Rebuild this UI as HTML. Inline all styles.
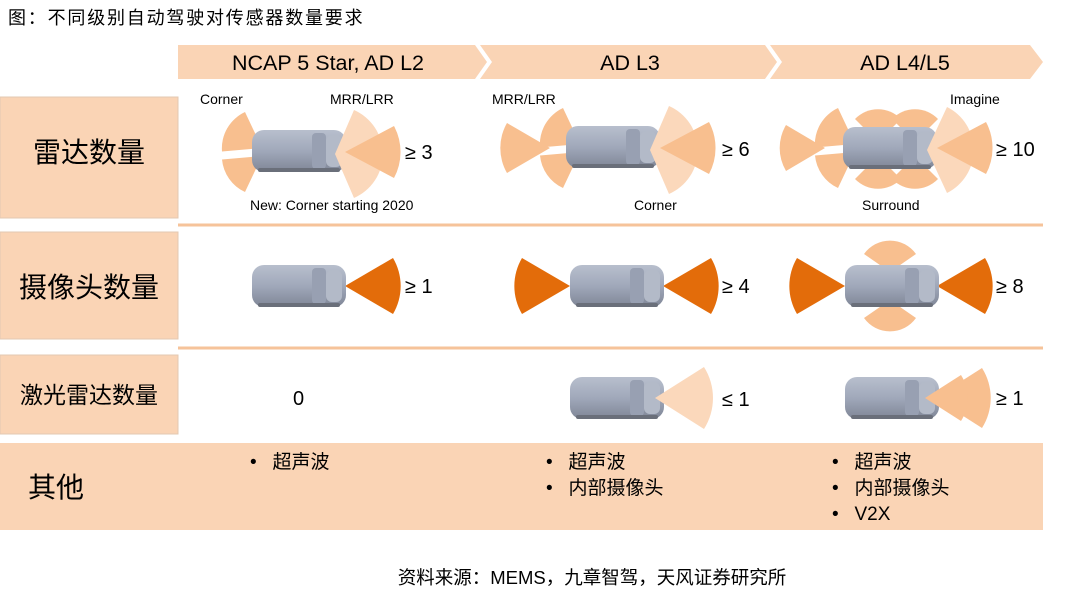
<!DOCTYPE html>
<html><head><meta charset="utf-8"><style>
body{margin:0;background:#fff;}
svg{display:block;font-family:"Liberation Sans","Noto Sans CJK SC",sans-serif;}
</style></head><body>
<svg width="1077" height="597" viewBox="0 0 1077 597" xmlns="http://www.w3.org/2000/svg">
<defs>
<linearGradient id="cg" x1="0" y1="0" x2="0" y2="1">
<stop offset="0" stop-color="#b8bfcd"/><stop offset="0.5" stop-color="#a0a8ba"/><stop offset="1" stop-color="#7f8696"/>
</linearGradient>
<g id="car">
<rect x="0" y="0" width="94" height="42" rx="12" fill="url(#cg)"/>
<rect x="60" y="3" width="14" height="36" rx="4" fill="#98a0b2"/>
<rect x="74" y="5" width="16" height="32" rx="6" fill="#b3bac8"/>
<rect x="6" y="38" width="82" height="4" rx="2" fill="#6a6f7a"/>
</g>
</defs>
<text x="8" y="24" font-size="18" letter-spacing="1.8" fill="#000">图：不同级别自动驾驶对传感器数量要求</text>
<!-- header -->
<polygon points="178,45 475,45 487,62 475,79 178,79" fill="#fad4b5"/>
<polygon points="480,45 765,45 777,62 765,79 480,79 492,62" fill="#fad4b5"/>
<polygon points="770,45 1030,45 1043,62 1030,79 770,79 782,62" fill="#fad4b5"/>
<text x="328" y="70" font-size="21.5" text-anchor="middle">NCAP 5 Star, AD L2</text>
<text x="630" y="70" font-size="21.5" text-anchor="middle">AD L3</text>
<text x="905" y="70" font-size="21.5" text-anchor="middle">AD L4/L5</text>
<!-- left boxes -->
<rect x="0" y="97" width="178" height="121" fill="#fad4b5" stroke="#e3c8b2"/>
<rect x="0" y="232" width="178" height="107" fill="#fad4b5" stroke="#e3c8b2"/>
<rect x="0" y="355" width="178" height="79" fill="#fad4b5" stroke="#e3c8b2"/>
<rect x="0" y="443" width="1043" height="87" fill="#fad4b5"/>
<line x1="178" y1="225" x2="1043" y2="225" stroke="#f6c39a" stroke-width="3"/>
<line x1="178" y1="348" x2="1043" y2="348" stroke="#f6c39a" stroke-width="3"/>
<text x="89" y="162" font-size="28" text-anchor="middle">雷达数量</text>
<text x="89" y="297" font-size="28" text-anchor="middle">摄像头数量</text>
<text x="89" y="403" font-size="23" text-anchor="middle">激光雷达数量</text>
<text x="28" y="497" font-size="28">其他</text>
<!-- radar col1 -->
<g fill="#f8bf8f">
<path d="M262,148 L222,151.5 A40,40 0 0 1 245,112 Z"/>
<path d="M262,156 L245,192 A40,40 0 0 1 222,159.5 Z"/>
</g>
<use href="#car" x="252" y="130"/>
<path d="M335,154 L354,110 A48,48 0 0 1 354,198 Z" fill="#fbd8bb"/>
<path d="M345,152 L394,126 A55,55 0 0 1 394,178 Z" fill="#f8bf8f"/>
<!-- radar col2 -->
<g fill="#f8bf8f">
<path d="M550,148 L507,123 A50,50 0 0 0 507,173 Z"/>
<path d="M580,144 L540,147.5 A40,40 0 0 1 563,108 Z"/>
<path d="M580,152 L563,188 A40,40 0 0 1 540,155.5 Z"/>
</g>
<use href="#car" x="566" y="126"/>
<path d="M650,150 L669,106 A48,48 0 0 1 669,194 Z" fill="#fbd8bb"/>
<path d="M660,148 L709,122 A55,55 0 0 1 709,174 Z" fill="#f8bf8f"/>
<!-- radar col3 -->
<g fill="#f8bf8f">
<path d="M825,148 L786,125 A45,45 0 0 0 786,171 Z"/>
<path d="M855,144 L815,147.5 A40,40 0 0 1 838,108 Z"/>
<path d="M855,152 L838,188 A40,40 0 0 1 815,155.5 Z"/>
<path d="M878,142 L855,119 A32,32 0 0 1 901,119 Z"/>
<path d="M915,142 L892,119 A32,32 0 0 1 938,119 Z"/>
<path d="M878,156 L901,179 A32,32 0 0 1 855,179 Z"/>
<path d="M915,156 L938,179 A32,32 0 0 1 892,179 Z"/>
</g>
<use href="#car" x="843" y="127"/>
<path d="M927,150 L947,107 A48,48 0 0 1 947,193 Z" fill="#fbd8bb"/>
<path d="M937,148 L986,122 A55,55 0 0 1 986,174 Z" fill="#f8bf8f"/>
<g font-size="14">
<text x="200" y="104">Corner</text>
<text x="330" y="104">MRR/LRR</text>
<text x="492" y="104">MRR/LRR</text>
<text x="950" y="104">Imagine</text>
<text x="250" y="210">New: Corner starting 2020</text>
<text x="634" y="210">Corner</text>
<text x="862" y="210">Surround</text>
</g>
<g font-size="20">
<text x="405" y="159">≥ 3</text>
<text x="722" y="156">≥ 6</text>
<text x="996" y="156">≥ 10</text>
<text x="405" y="293">≥ 1</text>
<text x="722" y="293">≥ 4</text>
<text x="996" y="293">≥ 8</text>
<text x="293" y="405">0</text>
<text x="722" y="406">≤ 1</text>
<text x="996" y="405">≥ 1</text>
</g>
<!-- camera row -->
<g fill="#e36c0a">
<path d="M345,286 L393,258 A55,55 0 0 1 393,314 Z"/>
<path d="M663,286 L711,258 A55,55 0 0 1 711,314 Z"/>
<path d="M570,286 L522,258 A55,55 0 0 0 522,314 Z"/>
<path d="M937,286 L985,258 A55,55 0 0 1 985,314 Z"/>
<path d="M845,286 L797,258 A55,55 0 0 0 797,314 Z"/>
</g>
<g fill="#f8bf8f">
<path d="M890,272 L864,254 A32,32 0 0 1 916,254 Z"/>
<path d="M890,300 L916,318 A32,32 0 0 1 864,318 Z"/>
</g>
<use href="#car" x="252" y="265"/>
<use href="#car" x="570" y="265"/>
<use href="#car" x="845" y="265"/>
<!-- lidar -->
<use href="#car" x="570" y="377"/>
<path d="M655,398 L704,367 A58,58 0 0 1 704,429 Z" fill="#fbd8bb"/>
<use href="#car" x="845" y="377"/>
<g fill="#f8bf8f">
<path d="M935,398 L982,368 A56,56 0 0 1 982,428 Z"/>
<path d="M925,398 L961,375 A43,43 0 0 1 961,421 Z"/>
</g>
<!-- others -->
<g font-size="19">
<text x="250" y="468">•&#160;&#160;&#160;超声波</text>
<text x="546" y="468">•&#160;&#160;&#160;超声波</text>
<text x="546" y="494">•&#160;&#160;&#160;内部摄像头</text>
<text x="832" y="468">•&#160;&#160;&#160;超声波</text>
<text x="832" y="494">•&#160;&#160;&#160;内部摄像头</text>
<text x="832" y="520">•&#160;&#160;&#160;V2X</text>
</g>
<text x="592" y="584" font-size="18.5" text-anchor="middle">资料来源：MEMS，九章智驾，天风证券研究所</text>
</svg>
</body></html>
